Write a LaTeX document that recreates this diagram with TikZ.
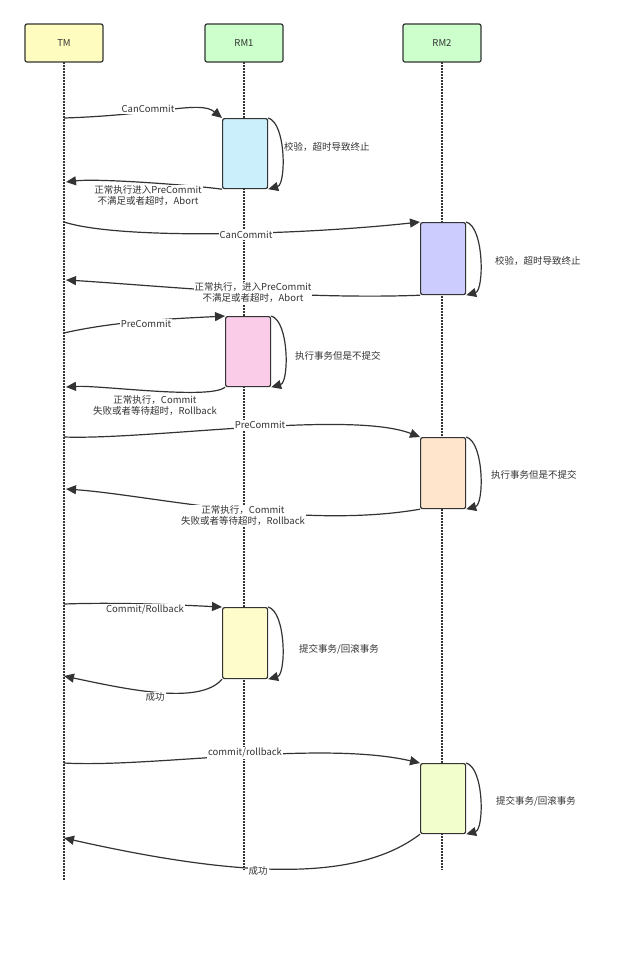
\documentclass[tikz,border=0pt]{standalone}
\usepackage{fontspec}
\setmainfont{Noto Sans CJK SC}
\usetikzlibrary{arrows.meta}
\definecolor{ink}{HTML}{333333}
\tikzset{
  head/.style={draw=ink,line width=1.2pt,rounded corners=2pt,minimum width=78pt,minimum height=38pt,inner sep=0pt,font=\fontsize{9.5pt}{11pt}\selectfont,text=ink},
  act/.style={draw=ink,line width=1.2pt,rounded corners=2pt,minimum width=45pt,minimum height=70pt,inner sep=0pt,anchor=north west},
  life/.style={draw=ink,line width=1.2pt,dash pattern=on 1.5pt off 1.5pt},
  msg/.style={draw=ink,line width=1.2pt,-{Triangle[length=10pt,width=9pt]}},
  lbl/.style={fill=white,text=ink,font=\fontsize{9.5pt}{11pt}\selectfont,inner sep=1pt,align=center},
  note/.style={text=ink,font=\fontsize{9.5pt}{11pt}\selectfont,anchor=west,inner sep=1pt}
}
\begin{document}
\begin{tikzpicture}[x=1pt,y=-1pt]
\useasboundingbox (0,0) rectangle (640,954);
% lifelines
\draw[life] (64,62) -- (64,880);
\draw[life] (244,62) -- (244,870);
\draw[life] (442,62) -- (442,870);
\node[head,fill=yellow!25] (TM) at (64,43) {TM};
\node[head,fill=green!20] (RMa) at (244,43) {RM1};
\node[head,fill=green!20] (RMb) at (442,43) {RM2};
% activations
\node[act,fill=cyan!20] (A) at (222,118) {};
\node[act,fill=blue!20,minimum height=72pt] (B) at (420,222) {};
\node[act,fill=magenta!20] (C) at (225,316) {};
\node[act,fill=orange!20,minimum height=71pt] (D) at (420,437) {};
\node[act,fill=yellow!20,minimum height=71pt] (E) at (222,607) {};
\node[act,fill=lime!20] (F) at (420,763) {};
% TM points
\coordinate (t1) at (64,118);  \coordinate (r1) at (66,182);
\coordinate (t2) at (64,222);  \coordinate (r2) at (66,280);
\coordinate (t3) at (64,333);  \coordinate (r3) at (66,387);
\coordinate (t4) at (64,437);  \coordinate (r4) at (66,489);
\coordinate (t5) at (64,604);  \coordinate (r5) at (64,676);
\coordinate (t6) at (64,763);  \coordinate (r6) at (64,838);
% self loops
\foreach \b in {A,B,C,D,E,F}
  \draw[msg] (\b.north east) .. controls +(18,5) and +(18,-5) .. (\b.south east);
% messages
\draw[msg] (t1) .. controls (160,115) and (200,100) .. (A.north west);
\draw[msg] (A.south west) .. controls (200,186) and (100,178) .. (r1);
\draw[msg] (t2) .. controls (120,240) and (300,235) .. (B.north west);
\draw[msg] (B.south west) .. controls (300,300) and (150,285) .. (r2);
\draw[msg] (t3) .. controls (120,320) and (190,318) .. (C.north west);
\draw[msg] (C.south west) .. controls (210,400) and (100,385) .. (r3);
\draw[msg] (t4) .. controls (150,440) and (350,410) .. (D.north west);
\draw[msg] (D.south west) .. controls (300,530) and (150,495) .. (r4);
\draw[msg] (t5) .. controls (120,602) and (180,605) .. (E.north west);
\draw[msg] (E.south west) .. controls (200,705) and (130,690) .. (r5);
\draw[msg] (t6) .. controls (150,768) and (320,740) .. (F.north west);
\draw[msg] (F.south west) .. controls (360,880) and (250,880) .. (r6);
% labels
\node[lbl] at (148,109) {CanCommit};
\node[lbl] at (148,196) {正常执行进入PreCommit\\不满足或者超时，Abort};
\node[lbl] at (246,235) {CanCommit};
\node[lbl] at (253,293) {正常执行，进入PreCommit\\不满足或者超时，Abort};
\node[lbl] at (146,324) {PreCommit};
\node[lbl] at (155,406) {正常执行，Commit\\失败或者等待超时，Rollback};
\node[lbl] at (260,425) {PreCommit};
\node[lbl] at (243,516) {正常执行，Commit\\失败或者等待超时，Rollback};
\node[lbl] at (145,610) {Commit/Rollback};
\node[lbl] at (155,697) {成功};
\node[lbl] at (245,753) {commit/rollback};
\node[lbl] at (258,871) {成功};
% notes
\node[note] at (283,147) {校验，超时导致终止};
\node[note] at (494,261) {校验，超时导致终止};
\node[note] at (294,356) {执行事务但是不提交};
\node[note] at (490,475) {执行事务但是不提交};
\node[note] at (298,649) {提交事务/回滚事务};
\node[note] at (495,801) {提交事务/回滚事务};
\end{tikzpicture}
\end{document}
